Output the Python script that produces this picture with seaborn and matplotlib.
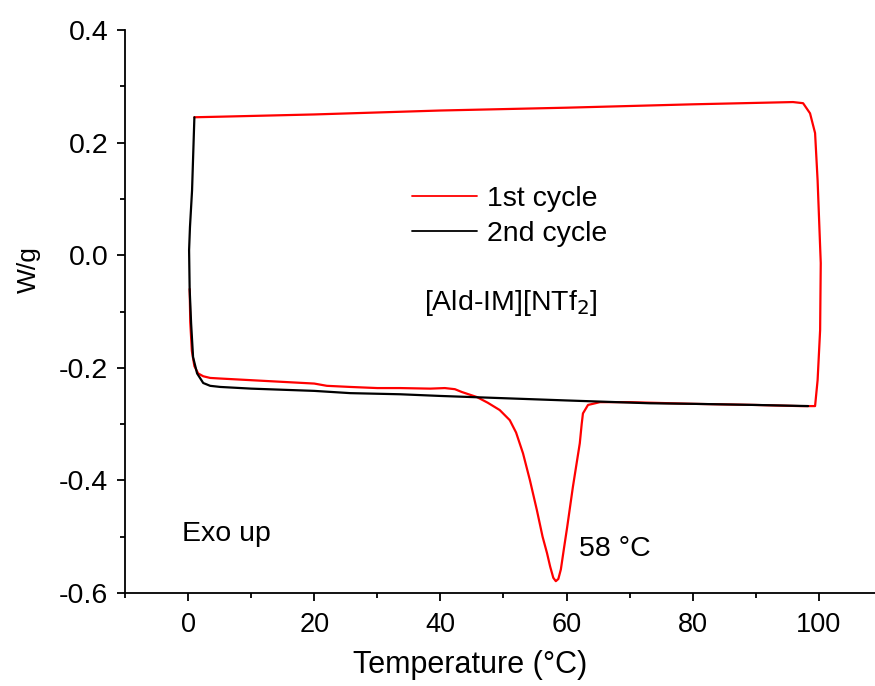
import matplotlib
matplotlib.use("Agg")
import matplotlib.pyplot as plt
import seaborn as sns
import pandas as pd
from matplotlib.ticker import MultipleLocator, FormatStrFormatter

# ---- data ----
cycle1_temp = [0.25, 0.35, 0.6, 1.0, 1.6, 2.4, 3.5, 5, 10, 15, 20, 22, 25.7, 30, 33.6,
               38.4, 40.7, 42.3, 43.4, 45.8, 47.5, 49.4, 51.0, 52.0, 53.1, 54.2, 55.3,
               56.2, 56.9, 57.4, 57.9, 58.3, 58.7, 59.1, 59.6, 60.1, 61.0, 62.1, 62.4,
               62.6, 63.4, 65.3, 70, 73.2, 80, 90, 97, 99.4, 99.8, 100.2, 100.3, 99.8,
               99.4, 98.6, 97.5, 95.9, 80, 60, 40, 20, 5, 1.0]
cycle1_wg = [-0.06, -0.12, -0.17, -0.197, -0.21, -0.215, -0.218, -0.219, -0.222, -0.225,
             -0.228, -0.232, -0.234, -0.236, -0.236, -0.237, -0.236, -0.238, -0.243,
             -0.252, -0.262, -0.275, -0.293, -0.315, -0.352, -0.40, -0.453, -0.50,
             -0.529, -0.553, -0.573, -0.579, -0.575, -0.558, -0.52, -0.483, -0.412,
             -0.334, -0.30, -0.281, -0.266, -0.261, -0.261, -0.262, -0.264, -0.266,
             -0.268, -0.268, -0.222, -0.133, -0.014, 0.133, 0.217, 0.252, 0.270, 0.272,
             0.268, 0.262, 0.257, 0.250, 0.246, 0.245]
cycle2_temp = [1.0, 0.63, 0.3, 0.16, 0.25, 0.48, 0.79, 1.43, 2.4, 3.5, 5.1, 10, 15, 20,
               25.7, 33.6, 40, 50, 60, 73.2, 80, 90, 98.3]
cycle2_wg = [0.245, 0.115, 0.05, 0.009, -0.06, -0.121, -0.181, -0.210, -0.227, -0.232,
             -0.234, -0.237, -0.239, -0.241, -0.245, -0.247, -0.250, -0.254, -0.258,
             -0.263, -0.264, -0.266, -0.268]
labels = ["1st cycle", "2nd cycle"]
colors = ["#ff0000", "#000000"]

df = pd.concat([
    pd.DataFrame({"T": cycle1_temp, "W": cycle1_wg, "cycle": labels[0]}),
    pd.DataFrame({"T": cycle2_temp, "W": cycle2_wg, "cycle": labels[1]}),
], ignore_index=True)

sns.set_theme(style="ticks")
plt.rcParams["font.family"] = ["Liberation Sans", "DejaVu Sans"]
plt.rcParams["axes.unicode_minus"] = False
plt.rcParams["text.color"] = "black"
plt.rcParams["axes.labelcolor"] = "black"

fig = plt.figure(figsize=(8.75, 6.86), dpi=100)
ax = fig.add_axes([125/875, 1-593/686, 1-125/875, (593-30)/686])

sns.lineplot(data=df, x="T", y="W", hue="cycle", palette=dict(zip(labels, colors)),
             sort=False, estimator=None, units="cycle", linewidth=1.6, ax=ax)

ax.set_xlim(-10, 108.9)
ax.set_ylim(-0.6, 0.4)
ax.xaxis.set_major_locator(MultipleLocator(20))
ax.xaxis.set_minor_locator(MultipleLocator(10))
ax.yaxis.set_major_locator(MultipleLocator(0.2))
ax.yaxis.set_minor_locator(MultipleLocator(0.1))
ax.yaxis.set_major_formatter(FormatStrFormatter("%.1f"))

for s in ["top", "right"]:
    ax.spines[s].set_visible(False)
for s in ["left", "bottom"]:
    ax.spines[s].set_linewidth(1.3)
    ax.spines[s].set_color("black")

ax.tick_params(which="major", direction="out", length=6, width=1.3, colors="black")
ax.tick_params(axis="y", which="major", pad=6, labelsize=20.5)
ax.tick_params(axis="x", which="major", pad=8, labelsize=19.5)
ax.tick_params(which="minor", direction="out", length=3.5, width=1.3, colors="black")

ax.set_xlabel("Temperature (°C)", fontsize=22, color="black")
ax.set_ylabel("W/g", fontsize=19, color="black")
ax.xaxis.set_label_coords((470-125)/750, -0.102)
ax.yaxis.set_label_coords((41-125)/750, (593-270)/563)

leg = ax.legend(loc="upper left", bbox_to_anchor=((412-125)/750, (593-186)/563),
                frameon=False, fontsize=20.5, handlelength=2.3, handletextpad=0.35,
                labelspacing=0.32, borderpad=0, borderaxespad=0)
for line in leg.get_lines():
    line.set_linewidth(1.3)
for t in leg.get_texts():
    t.set_color("black")

ax.text(51.2, -0.085, "[Ald-IM][NTf$_2$]", fontsize=20.5, ha="center", va="center",
        color="black")
ax.text(-1.0, -0.495, "Exo up", fontsize=20.5, ha="left", va="center", color="black")
ax.text(61.9, -0.522, "58 °C", fontsize=20.5, ha="left", va="center", color="black")

fig.savefig("out.png", dpi=100)
